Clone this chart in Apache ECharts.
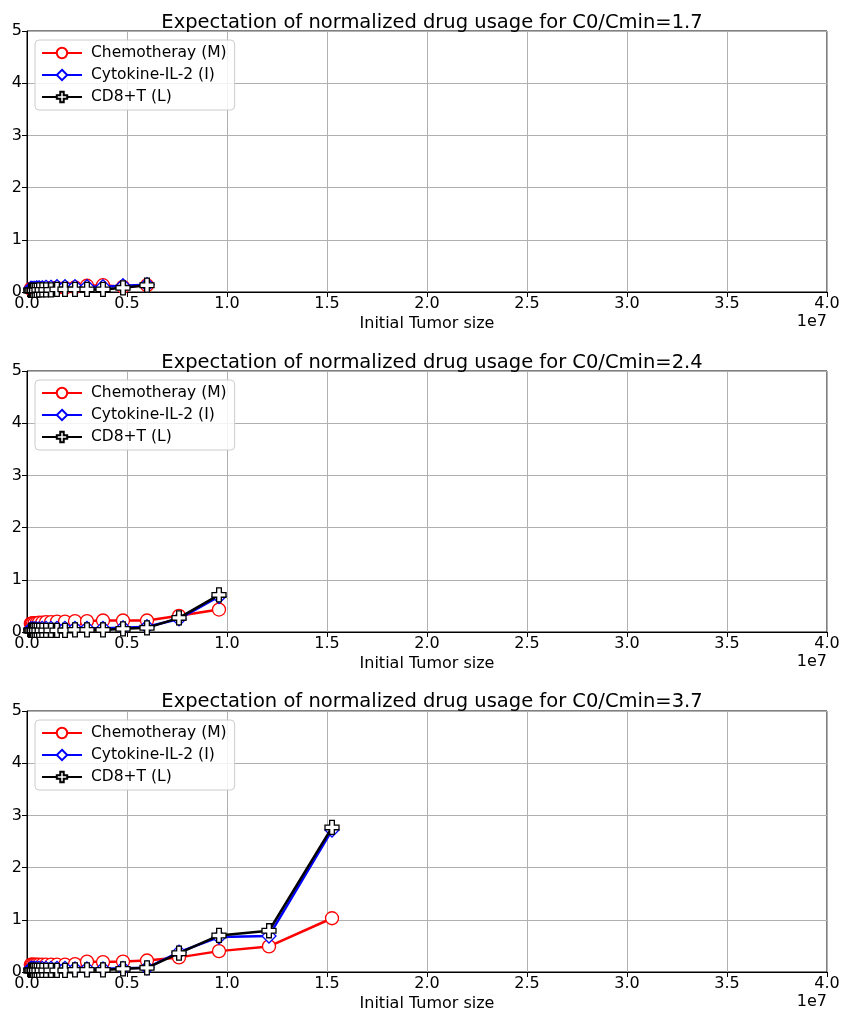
<!DOCTYPE html>
<html>
<head>
<meta charset="utf-8">
<script src="https://cdn.jsdelivr.net/npm/echarts@6/dist/echarts.min.js"></script>
<style>
html,body{margin:0;padding:0;background:#fff;}
#chart{width:842px;height:1009px;}
</style>
</head>
<body>
<div id="chart"></div>
<script>
// Initial tumor sizes (shared x values)
var xVals = [1.9e5, 2.4e5, 3.0e5, 3.8e5, 4.8e5, 6.0e5, 7.6e5, 9.5e5, 1.2e6, 1.5e6,
             1.9e6, 2.4e6, 3.0e6, 3.8e6, 4.8e6, 6.0e6, 7.6e6, 9.6e6, 1.21e7, 1.525e7];

var titles = [
  'Expectation of normalized drug usage for C0/Cmin=1.7',
  'Expectation of normalized drug usage for C0/Cmin=2.4',
  'Expectation of normalized drug usage for C0/Cmin=3.7'
];
var seriesNames = ['Chemotheray (M)', 'Cytokine-IL-2 (I)', 'CD8+T (L)'];
var xTickLabels = ['0.0','0.5','1.0','1.5','2.0','2.5','3.0','3.5','4.0'];

// Panel 1 (C0/Cmin = 1.7)
var chemo1 = [0.06,0.06,0.06,0.06,0.06,0.07,0.07,0.07,0.08,0.08,0.08,0.09,0.12,0.13,0.10,0.13];
var cyto1  = [0.07,0.07,0.07,0.07,0.08,0.08,0.08,0.09,0.09,0.10,0.10,0.10,0.10,0.10,0.12,0.14];
var cd81   = [0.03,0.03,0.03,0.03,0.03,0.04,0.04,0.04,0.04,0.05,0.05,0.05,0.05,0.05,0.08,0.13];

// Panel 2 (C0/Cmin = 2.4)
var chemo2 = [0.16,0.16,0.17,0.17,0.17,0.18,0.18,0.19,0.19,0.20,0.20,0.21,0.21,0.22,0.22,0.22,0.31,0.43];
var cyto2  = [0.06,0.06,0.06,0.06,0.06,0.06,0.07,0.07,0.07,0.07,0.07,0.07,0.07,0.07,0.08,0.10,0.25,0.68];
var cd82   = [0.03,0.03,0.03,0.03,0.03,0.03,0.03,0.03,0.03,0.03,0.03,0.04,0.04,0.04,0.06,0.08,0.27,0.71];

// Panel 3 (C0/Cmin = 3.7)
var chemo3 = [0.14,0.14,0.14,0.14,0.14,0.14,0.14,0.14,0.14,0.14,0.14,0.15,0.20,0.19,0.20,0.22,0.28,0.40,0.49,1.03];
var cyto3  = [0.07,0.07,0.07,0.07,0.07,0.07,0.07,0.07,0.07,0.07,0.07,0.06,0.06,0.06,0.07,0.08,0.38,0.67,0.69,2.72];
var cd83   = [0.03,0.03,0.03,0.03,0.03,0.03,0.03,0.03,0.03,0.03,0.03,0.04,0.04,0.04,0.06,0.08,0.36,0.70,0.79,2.77];

var panels = [[chemo1, cyto1, cd81], [chemo2, cyto2, cd82], [chemo3, cyto3, cd83]];

var FONT = 'DejaVu Sans';
var colors = ['#ff0000', '#0000ff', '#000000'];
var plusPath = 'path://M-1,-3L1,-3L1,-1L3,-1L3,1L1,1L1,3L-1,3L-1,1L-3,1L-3,-1L-1,-1Z';
var symbols = ['circle', 'diamond', plusPath];
var symbolSizes = [13, 14, 14];

var gridTops = [31, 371, 711];
var gridH = 261;
var titleY = [8, 348, 687];

var grids = [], xAxes = [], yAxes = [], series = [], legends = [], titleArr = [], graphics = [];

function pairs(vals) {
  var out = [];
  for (var i = 0; i < vals.length; i++) out.push([xVals[i], vals[i]]);
  return out;
}

for (var p = 0; p < 3; p++) {
  grids.push({left: 27, width: 800, top: gridTops[p], height: gridH,
    outerBoundsMode: 'none', containLabel: false,
    show: true, borderColor: '#000', borderWidth: 1, backgroundColor: 'transparent'});
  xAxes.push({
    type: 'value', gridIndex: p, min: 0, max: 4e7, interval: 5e6,
    name: 'Initial Tumor size', nameLocation: 'middle', nameGap: 24,
    nameTextStyle: {fontFamily: FONT, fontSize: 16, color: '#000'},
    axisLine: {show: true, lineStyle: {color: '#000', width: 1}},
    axisTick: {show: true, length: 5, lineStyle: {color: '#000'}},
    axisLabel: {fontFamily: FONT, fontSize: 16, color: '#000', margin: 4,
      formatter: function (v) { return xTickLabels[Math.round(v / 5e6)]; }},
    splitLine: {show: true, lineStyle: {color: '#b0b0b0', width: 1}}
  });
  yAxes.push({
    type: 'value', gridIndex: p, min: 0, max: 5, interval: 1,
    axisLine: {show: true, lineStyle: {color: '#000', width: 1}},
    axisTick: {show: true, length: 5, lineStyle: {color: '#000'}},
    axisLabel: {fontFamily: FONT, fontSize: 16, color: '#000', margin: 5},
    splitLine: {show: true, lineStyle: {color: '#b0b0b0', width: 1}}
  });
  for (var s = 0; s < 3; s++) {
    series.push({
      type: 'line', name: seriesNames[s], xAxisIndex: p, yAxisIndex: p,
      data: pairs(panels[p][s]),
      symbol: symbols[s], symbolSize: symbolSizes[s], showAllSymbol: true,
      lineStyle: {color: colors[s], width: 2.5},
      itemStyle: {color: '#ffffff', borderColor: colors[s], borderWidth: 1.3},
      z: 2 + s, animation: false
    });
  }
  legends.push({
    orient: 'vertical', left: 35, top: gridTops[p] + 9,
    data: seriesNames, itemWidth: 40, itemHeight: 13, itemGap: 6,
    padding: [5, 8, 5, 6],
    backgroundColor: 'rgba(255,255,255,0.85)', borderColor: '#cccccc', borderWidth: 1, borderRadius: 4,
    textStyle: {fontFamily: FONT, fontSize: 15.5, color: '#000', padding: [0, 0, 0, 4]},
    selectedMode: false
  });
  titleArr.push({
    text: titles[p], left: 427, top: titleY[p], textAlign: 'center',
    textStyle: {fontFamily: FONT, fontSize: 19.5, fontWeight: 'normal', color: '#000'}
  });
  graphics.push({
    type: 'text', right: 15, top: gridTops[p] + gridH + 22,
    style: {text: '1e7', fontFamily: FONT, fontSize: 16, fill: '#000'}
  });
}

var chart = echarts.init(document.getElementById('chart'), null, {renderer: 'canvas'});
chart.setOption({
  animation: false,
  title: titleArr,
  grid: grids,
  xAxis: xAxes,
  yAxis: yAxes,
  legend: legends,
  series: series,
  graphic: graphics
});
</script>
</body>
</html>
